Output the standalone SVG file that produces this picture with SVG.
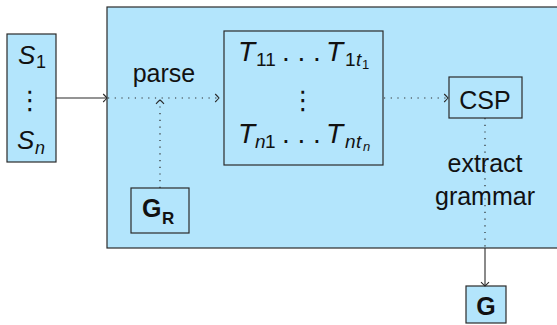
<svg xmlns="http://www.w3.org/2000/svg" width="557" height="325" viewBox="0 0 557 325">
<style>
.box{fill:#b3e5fc;stroke:#2a2a2a;stroke-width:1.2}
.inner{fill:none;stroke:#2a2a2a;stroke-width:1.2}
text{font-family:"Liberation Sans",Arial,sans-serif;fill:#111}
.lbl{font-size:25px;text-anchor:middle}
.mi{font-style:italic}
.b{font-weight:bold}
.vd{font-family:"DejaVu Sans",sans-serif;font-size:26px;text-anchor:middle}
.solid{fill:none;stroke:#2a2a2a;stroke-width:1.1}
.dot{fill:none;stroke:#2a2a2a;stroke-width:1.2;stroke-dasharray:1.2 5.5}
</style>
<defs>
<marker id="to" markerUnits="userSpaceOnUse" orient="auto" refX="0" refY="0" markerWidth="10" markerHeight="10" overflow="visible">
<path d="M-3.8,-4 Q-0.8,-1 0,0 Q-0.8,1 -3.8,4" fill="none" stroke="#2a2a2a" stroke-width="1.1" stroke-dasharray="none"/>
</marker>
</defs>
<g id="process">
<rect class="box" x="107" y="7" width="460" height="241"/>
</g>
<g id="sentences">
<rect class="box" x="7" y="34" width="49" height="128"/>
<text x="18" y="64" font-size="26" class="mi">S</text>
<text x="36" y="68" font-size="18">1</text>
<text class="vd" x="30" y="109">⋮</text>
<text x="17" y="149" font-size="26" class="mi">S</text>
<text x="35" y="154" font-size="18" class="mi">n</text>
</g>
<g id="parse-label">
<text class="lbl" x="164" y="82">parse</text>
</g>
<g id="trees">
<rect class="inner" x="224" y="31" width="159" height="134"/>
<text x="238" y="61" font-size="28" class="mi">T</text>
<text x="256" y="66" font-size="19">11</text>
<text x="282" y="61" font-size="28">. . .</text>
<text x="326" y="61" font-size="28" class="mi">T</text>
<text x="345" y="66" font-size="19">1</text>
<text x="356" y="66" font-size="19" class="mi">t</text>
<text x="362" y="69" font-size="13">1</text>
<text class="vd" x="303" y="109">⋮</text>
<text x="238" y="143" font-size="28" class="mi">T</text>
<text x="255" y="148" font-size="19" class="mi">n</text>
<text x="265" y="148" font-size="19">1</text>
<text x="282" y="143" font-size="28">. . .</text>
<text x="326" y="143" font-size="28" class="mi">T</text>
<text x="345" y="148" font-size="19" class="mi">n</text>
<text x="356" y="148" font-size="19" class="mi">t</text>
<text x="363" y="151" font-size="13" class="mi">n</text>
</g>
<g id="csp">
<rect class="inner" x="449" y="77" width="73" height="41"/>
<text class="lbl" x="485" y="109">CSP</text>
</g>
<g id="extract-label">
<text class="lbl" x="485" y="172">extract</text>
<text class="lbl" x="485" y="205">grammar</text>
</g>
<g id="gr">
<rect class="inner" x="131" y="188" width="58" height="45"/>
<text x="142" y="217" font-size="25" class="b">G</text>
<text x="162" y="224" font-size="17" class="b">R</text>
</g>
<g id="g">
<rect class="box" x="466" y="286" width="40" height="37"/>
<text x="486" y="315" font-size="25" class="b" text-anchor="middle">G</text>
</g>
<g id="connectors">
<path class="solid" d="M56,98 H107" marker-end="url(#to)"/>
<path class="dot" d="M108,98 H219" marker-end="url(#to)"/>
<path class="dot" d="M160,188 V100" marker-end="url(#to)"/>
<path class="dot" d="M384,98 H448" marker-end="url(#to)"/>
<path class="dot" d="M485,118 V248"/>
<path class="solid" d="M485,248 V286" marker-end="url(#to)"/>
</g>
</svg>
